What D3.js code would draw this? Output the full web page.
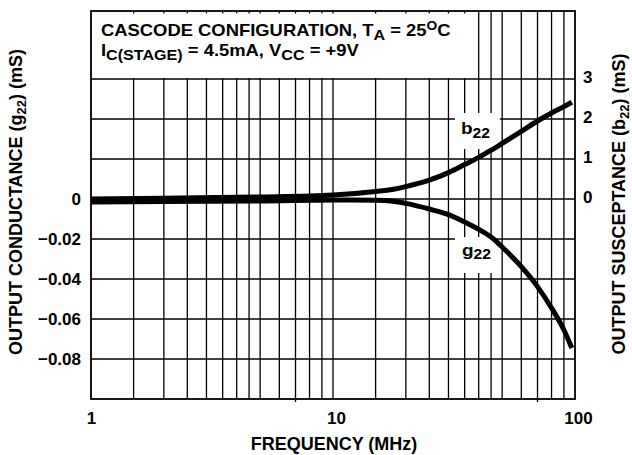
<!DOCTYPE html>
<html>
<head>
<meta charset="utf-8">
<script src="https://cdn.jsdelivr.net/npm/d3@7"></script>
<style>
    body { margin: 0; background: #fff; }
    text { font-family: "Liberation Sans", Arial, sans-serif; font-weight: bold; fill: #000; }
</style>
</head>
<body>
<svg id="chart"></svg>
<script>
// frequency points (MHz)
var freqs = [1, 2, 5, 10, 15, 18, 20, 25, 30, 35, 40, 45, 50, 60, 70, 80, 90, 97];
// output susceptance b22 (mS, right axis)
var b22 = [0, 0.02, 0.05, 0.1, 0.19, 0.25, 0.31, 0.47, 0.66, 0.86, 1.04, 1.22, 1.39, 1.69, 1.95, 2.15, 2.31, 2.42];
// output conductance g22 (mS, left axis)
var g22 = [-0.0015, -0.0012, -0.001, -0.0005, -0.0006, -0.0012, -0.0022, -0.005, -0.0078, -0.0115, -0.0152, -0.019, -0.024, -0.0338, -0.0438, -0.0545, -0.0655, -0.0745];

var xTickLabels = [1, 10, 100];
var gridFreqs = [1.5, 2, 2.5, 3, 3.5, 4, 4.5, 5, 6, 7, 8, 9, 10, 15, 20, 25, 30, 35, 40, 45, 50, 60, 70, 80, 90];
var leftTicks = [0, -0.02, -0.04, -0.06, -0.08];
var leftGrid = [0.06, 0.04, 0.02, 0, -0.02, -0.04, -0.06, -0.08];
var rightTicks = [0, 1, 2, 3];

var width = 632, height = 455;
var stretch = 1.12; // the source text is a bit wider than it is tall

var svg = d3.select("#chart")
    .attr("width", width)
    .attr("height", height);

var plotLeft = 91, plotRight = 575, plotTop = 11, plotBottom = 399;

//Scales
var xScale = d3.scaleLog()
    .domain([1, 100])
    .range([plotLeft, plotRight]);

var yScale = d3.scaleLinear()
    .domain([-0.1, 0.094])
    .range([plotBottom, plotTop]);

var y2Scale = d3.scaleLinear()
    .domain([-5, 4.7])
    .range([plotBottom, plotTop]);

//Grid
var grid = svg.append("g")
    .attr("stroke", "#000")
    .attr("stroke-width", 1.3);

grid.selectAll(".vgrid")
    .data(gridFreqs)
    .enter()
    .append("line")
    .attr("class", "vgrid")
    .attr("x1", function(d){ return xScale(d); })
    .attr("x2", function(d){ return xScale(d); })
    .attr("y1", plotTop)
    .attr("y2", function(d){ return (d == 7 || d == 70) ? plotBottom + 3 : plotBottom; });

grid.selectAll(".hgrid")
    .data(leftGrid)
    .enter()
    .append("line")
    .attr("class", "hgrid")
    .attr("x1", plotLeft)
    .attr("x2", plotRight)
    .attr("y1", function(d){ return yScale(d); })
    .attr("y2", function(d){ return yScale(d); });

// white boxes behind the texts
svg.append("rect")
    .attr("x", plotLeft + 1)
    .attr("y", plotTop + 2.5)
    .attr("width", xScale(40) - plotLeft - 2.5)
    .attr("height", yScale(0.06) - plotTop - 3.5)
    .attr("fill", "#fff");

svg.append("rect")
    .attr("x", xScale(32.5) - 2)
    .attr("y", y2Scale(2) - 6)
    .attr("width", 45)
    .attr("height", 36)
    .attr("fill", "#fff");

svg.append("rect")
    .attr("x", xScale(32.5) - 2)
    .attr("y", yScale(-0.02) - 2)
    .attr("width", 38)
    .attr("height", 36)
    .attr("fill", "#fff");

//Frame
svg.append("rect")
    .attr("x", plotLeft)
    .attr("y", plotTop)
    .attr("width", plotRight - plotLeft)
    .attr("height", plotBottom - plotTop)
    .attr("fill", "none")
    .attr("stroke", "#000")
    .attr("stroke-width", 1.8);

//Curves
var b22Line = d3.line()
    .x(function(d, i){ return xScale(freqs[i]); })
    .y(function(d){ return y2Scale(d); })
    .curve(d3.curveMonotoneX);

var g22Line = d3.line()
    .x(function(d, i){ return xScale(freqs[i]); })
    .y(function(d){ return yScale(d); })
    .curve(d3.curveMonotoneX);

svg.append("path")
    .attr("d", g22Line(g22))
    .attr("fill", "none")
    .attr("stroke", "#000")
    .attr("stroke-width", 5);

svg.append("path")
    .attr("d", b22Line(b22))
    .attr("fill", "none")
    .attr("stroke", "#000")
    .attr("stroke-width", 5);

//Axis
var xAxis = d3.axisBottom(xScale)
    .tickValues(xTickLabels)
    .tickFormat(d3.format("d"))
    .tickSize(0)
    .tickPadding(13);

var yAxis = d3.axisLeft(yScale)
    .tickValues(leftTicks)
    .tickFormat(function(d){ return d == 0 ? "0" : d3.format(".2f")(d); })
    .tickSize(0)
    .tickPadding(10);

var y2Axis = d3.axisRight(y2Scale)
    .tickValues(rightTicks)
    .tickFormat(d3.format("d"))
    .tickSize(0)
    .tickPadding(8);

svg.append("g")
    .attr("class", "xaxis")
    .attr("transform", "translate(0," + plotBottom + ")")
    .call(xAxis);

svg.append("g")
    .attr("transform", "translate(" + plotLeft + ",0)")
    .call(yAxis);

svg.append("g")
    .attr("class", "y2axis")
    .attr("transform", "translate(" + plotRight + ",0)")
    .call(y2Axis);

svg.selectAll(".domain").remove();
svg.selectAll(".tick text")
    .attr("fill", "#000")
    .style("font-size", "17px")
    .style("font-family", "'Liberation Sans', Arial, sans-serif")
    .style("font-weight", "bold");
svg.selectAll(".y2axis .tick text").attr("dy", "0.2em");
svg.selectAll(".xaxis .tick text").attr("dx", function(d){ return d == 1 ? 0 : 3; });

//Titles
svg.append("text")
    .attr("x", 334)
    .attr("y", 450)
    .attr("text-anchor", "middle")
    .style("font-size", "18px")
    .text("FREQUENCY (MHz)");

var leftTitle = svg.append("text")
    .attr("transform", "translate(22,202) rotate(-90)")
    .attr("text-anchor", "middle")
    .style("font-size", "18px");
leftTitle.append("tspan").text("OUTPUT CONDUCTANCE (g");
leftTitle.append("tspan").attr("dy", 4).style("font-size", "13px").text("22");
leftTitle.append("tspan").attr("dy", -4).text(") (mS)");

var rightTitle = svg.append("text")
    .attr("transform", "translate(625,204) rotate(-90)")
    .attr("text-anchor", "middle")
    .style("font-size", "18px");
rightTitle.append("tspan").text("OUTPUT SUSCEPTANCE (b");
rightTitle.append("tspan").attr("dy", 4).style("font-size", "13px").text("22");
rightTitle.append("tspan").attr("dy", -4).text(") (mS)");

// header box
var t1 = svg.append("text")
    .attr("transform", "translate(101,36) scale(1.15,1)")
    .style("font-size", "16px");
t1.append("tspan").text("CASCODE CONFIGURATION, T");
t1.append("tspan").attr("dy", 4).style("font-size", "14px").text("A");
t1.append("tspan").attr("dy", -4).text(" = 25");
t1.append("tspan").attr("dy", -6).style("font-size", "12px").text("O");
t1.append("tspan").attr("dy", 6).text("C");

var t2 = svg.append("text")
    .attr("transform", "translate(101,56) scale(1.15,1)")
    .style("font-size", "16px");
t2.append("tspan").text("I");
t2.append("tspan").attr("dy", 4).style("font-size", "14px").text("C(STAGE)");
t2.append("tspan").attr("dy", -4).text(" = 4.5mA, V");
t2.append("tspan").attr("dy", 4).style("font-size", "14px").text("CC");
t2.append("tspan").attr("dy", -4).text(" = +9V");

// curve labels
var lb = svg.append("text")
    .attr("transform", "translate(" + (xScale(32.5) + 4) + "," + (y2Scale(2) + 15) + ") scale(" + stretch + ",1)")
    .style("font-size", "17px");
lb.append("tspan").text("b");
lb.append("tspan").attr("dy", 4).style("font-size", "14px").text("22");

var lg = svg.append("text")
    .attr("transform", "translate(" + (xScale(32.5) + 5) + "," + (yScale(-0.02) + 17) + ") scale(" + stretch + ",1)")
    .style("font-size", "17px");
lg.append("tspan").text("g");
lg.append("tspan").attr("dy", 3).style("font-size", "14px").text("22");
</script>
</body>
</html>
